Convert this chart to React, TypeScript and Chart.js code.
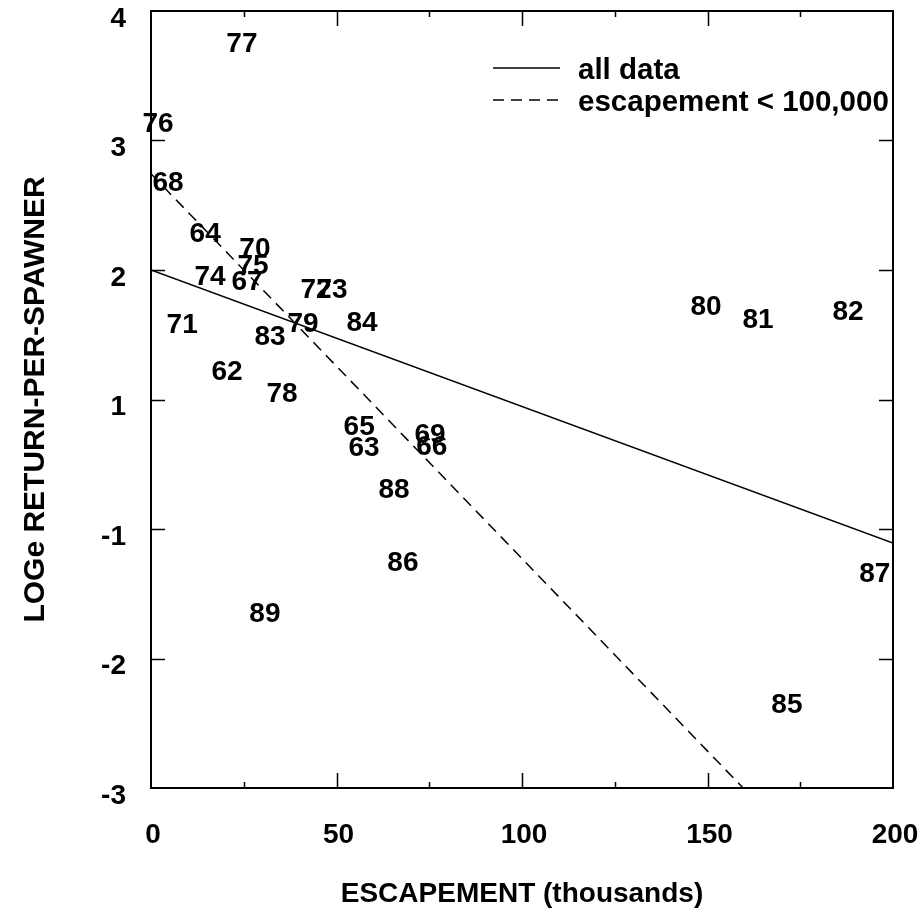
import React, { useEffect, useRef } from "react";
import { Chart, registerables } from "chart.js";

Chart.register(...registerables);

// ---- data ----
const yearLabels = ["77", "76", "68", "64", "70", "75", "74", "67", "72", "73", "71", "83", "79", "84", "62", "78", "65", "63", "69", "66", "88", "86", "89", "80", "81", "82", "87", "85"];
// escapement, thousands
const escapement = [24.5, 1.9, 4.6, 14.6, 28.0, 27.5, 15.9, 25.9, 44.5, 48.8, 8.4, 32.1, 41.0, 56.9, 20.5, 35.3, 56.1, 57.4, 75.2, 75.7, 65.5, 67.9, 30.7, 149.6, 163.6, 187.9, 195.1, 171.4];
// position on the printed y axis (tick index offset: -3..3 printed as -3,-2,-1,1,2,3,4)
const logReturn = [2.76, 2.14, 1.69, 1.29, 1.18, 1.05, 0.96, 0.92, 0.86, 0.86, 0.59, 0.5, 0.6, 0.61, 0.23, 0.06, -0.2, -0.36, -0.26, -0.35, -0.68, -1.25, -1.64, 0.73, 0.63, 0.69, -1.33, -2.34];

const yTickLabels = ["-3", "-2", "-1", "1", "2", "3", "4"];

const allDataX = [0, 200];
const allDataY = [1.0, -1.108];
const lowEscX = [0, 159.6];
const lowEscY = [1.743, -3];

const legendLabels = ["all data", "escapement < 100,000"];
const xTitle = "ESCAPEMENT (thousands)";
const yTitle = "LOGe RETURN-PER-SPAWNER";

const FAMILY = "'Liberation Sans', Arial, Helvetica, sans-serif";
const W = 924;
const H = 919;
const LABEL_SIZE = 28;
const LEGEND_SIZE = 29.5;

const yearLabelPlugin = {
  id: "yearLabels",
  afterDatasetsDraw(chart: any) {
    const ctx = chart.ctx;
    const meta = chart.getDatasetMeta(0);
    ctx.save();
    ctx.fillStyle = "#000";
    ctx.font = `bold ${LABEL_SIZE}px ${FAMILY}`;
    ctx.textAlign = "center";
    ctx.textBaseline = "alphabetic";
    meta.data.forEach((el: any, i: number) => {
      ctx.fillText(yearLabels[i], el.x, el.y + LABEL_SIZE * 0.358);
    });
    ctx.restore();
  },
};

const framePlugin = {
  id: "frameTicks",
  afterDraw(chart: any) {
    const { ctx, chartArea } = chart;
    const { left, right, top, bottom } = chartArea;
    const xs = chart.scales.x;
    const ys = chart.scales.y;
    ctx.save();
    ctx.strokeStyle = "#000";
    ctx.lineWidth = 2;
    ctx.strokeRect(left, top, right - left, bottom - top);
    ctx.lineWidth = 1.5;
    ctx.beginPath();
    for (let v = 25; v < 200; v += 25) {
      const px = Math.round(xs.getPixelForValue(v)) + 0.5;
      const len = v % 50 === 0 ? 15 : 6;
      ctx.moveTo(px, bottom);
      ctx.lineTo(px, bottom - len);
      ctx.moveTo(px, top);
      ctx.lineTo(px, top + len);
    }
    for (let v = -2; v < 3; v += 1) {
      const py = Math.round(ys.getPixelForValue(v)) + 0.5;
      ctx.moveTo(left, py);
      ctx.lineTo(left + 14, py);
      ctx.moveTo(right, py);
      ctx.lineTo(right - 14, py);
    }
    ctx.stroke();

    // legend
    ctx.font = `bold ${LEGEND_SIZE}px ${FAMILY}`;
    ctx.fillStyle = "#000";
    ctx.textAlign = "left";
    ctx.textBaseline = "alphabetic";
    const rows = [68, 100];
    [1, 2].forEach((di, k) => {
      const ds = chart.data.datasets[di];
      const y = rows[k];
      ctx.beginPath();
      ctx.lineWidth = 1.5;
      ctx.setLineDash(ds.borderDash || []);
      ctx.moveTo(493, y);
      ctx.lineTo(560, y);
      ctx.stroke();
      ctx.setLineDash([]);
      ctx.fillText(ds.label, 578, y + LEGEND_SIZE * 0.358);
    });
    ctx.restore();
  },
};

export default function App() {
  const ref = useRef<HTMLCanvasElement | null>(null);

  useEffect(() => {
    if (!ref.current) return;
    const font = { family: FAMILY, size: 28, weight: "bold" as const };
    const yTitleFont = { family: FAMILY, size: 30, weight: "bold" as const };
    const chart = new Chart(ref.current, {
      type: "scatter",
      data: {
        datasets: [
          {
            label: "years",
            data: escapement.map((x, i) => ({ x, y: logReturn[i] })),
            pointRadius: 0,
            showLine: false,
          },
          {
            label: legendLabels[0],
            type: "line",
            data: allDataX.map((x, i) => ({ x, y: allDataY[i] })),
            borderColor: "#000",
            borderWidth: 1.5,
            pointRadius: 0,
            showLine: true,
            fill: false,
          },
          {
            label: legendLabels[1],
            type: "line",
            data: lowEscX.map((x, i) => ({ x, y: lowEscY[i] })),
            borderColor: "#000",
            borderWidth: 1.5,
            borderDash: [11, 7],
            pointRadius: 0,
            showLine: true,
            fill: false,
          },
        ] as any,
      },
      options: {
        responsive: false,
        animation: false,
        devicePixelRatio: 1,
        layout: { padding: { left: 8, top: 11, right: 31, bottom: 4 } },
        plugins: { legend: { display: false }, tooltip: { enabled: false } },
        scales: {
          x: {
            type: "linear",
            min: 0,
            max: 200,
            ticks: { stepSize: 50, font, color: "#000", padding: 30, labelOffset: 2, maxRotation: 0 },
            grid: { display: false, drawTicks: false },
            border: { display: false },
            title: { display: true, text: xTitle, font, color: "#000", padding: { top: 0, bottom: 4 } },
            afterFit: (s: any) => {
              s.height = H - 4 - 788;
              s.paddingLeft = 0;
              s.paddingRight = 0;
            },
          },
          y: {
            type: "linear",
            min: -3,
            max: 3,
            ticks: {
              stepSize: 1,
              font,
              color: "#000",
              padding: 25,
              labelOffset: 8,
              callback: (_v: any, i: number) => yTickLabels[i],
            },
            grid: { display: false, drawTicks: false },
            border: { display: false },
            title: { display: true, text: yTitle, font: yTitleFont, color: "#000", padding: { top: 10, bottom: 0 } },
            afterFit: (s: any) => {
              s.width = 151 - 8;
              s.paddingTop = 0;
              s.paddingBottom = 0;
            },
          },
        },
      } as any,
      plugins: [yearLabelPlugin, framePlugin],
    });
    return () => chart.destroy();
  }, []);

  return (
    <div style={{ position: "fixed", left: 0, top: 0, width: W, height: H, background: "#fff" }}>
      <canvas ref={ref} width={W} height={H} style={{ display: "block" }} />
    </div>
  );
}
